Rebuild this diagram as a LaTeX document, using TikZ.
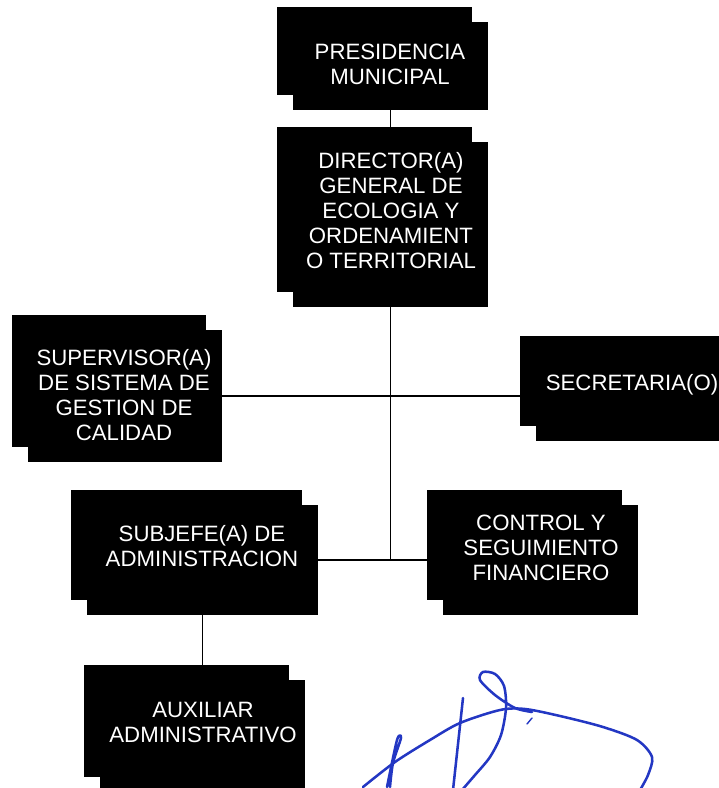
\documentclass[tikz,border=0pt]{standalone}
\usepackage{fontspec}
\setmainfont{Liberation Sans}
\usepackage{tikz}
\usetikzlibrary{shadows}
\definecolor{signblue}{RGB}{35,55,195}
\tikzstyle{box}  = [rectangle, fill=black, draw=none, inner sep=0pt, copy shadow={shadow xshift=-0.4cm, shadow yshift=0.375cm, fill=black, draw=none}]
\tikzstyle{txt}  = [text=white, align=center, inner sep=0pt, font=\fontsize{15.8}{17.8}\selectfont]
\tikzstyle{conn} = [line width=1.4pt]
\tikzstyle{ink}  = [line width=1.8pt, signblue, line cap=round, line join=round]

\begin{document}
\begin{tikzpicture}[]
		\useasboundingbox (0,0) rectangle (17.95,-19.7);

		% boxes
		\node[box, minimum width=4.875cm, minimum height=2.2cm]   (pres) at (9.7625,-1.65) {};
		\node[box, minimum width=4.875cm, minimum height=4.125cm] (dir)  at (9.7625,-5.6125) {};
		\node[box, minimum width=4.85cm,  minimum height=3.3cm]   (sup)  at (3.125,-9.9) {};
		\node[box, minimum width=5.675cm, minimum height=2.225cm] (sec)  at (16.2375,-9.9) {};
		\node[box, minimum width=5.775cm, minimum height=2.75cm]  (sub)  at (5.0625,-14) {};
		\node[box, minimum width=4.875cm, minimum height=2.75cm]  (ctl)  at (13.5125,-14) {};
		\node[box, minimum width=5.125cm, minimum height=2.8cm]   (aux)  at (5.0625,-18.4) {};

		% texts
		\node[txt] (presT) at (9.75,-1.6)    {PRESIDENCIA\\MUNICIPAL};
		\node[txt] (dirT)  at (9.775,-5.275) {DIRECTOR(A)\\GENERAL DE\\ECOLOGIA Y\\ORDENAMIENT\\O TERRITORIAL};
		\node[txt] (supT)  at (3.1,-9.875)   {SUPERVISOR(A)\\DE SISTEMA DE\\GESTION DE\\CALIDAD};
		\node[txt] (secT)  at (15.8,-9.625)  {SECRETARIA(O)};
		\node[txt] (subT)  at (5.05,-13.65)  {SUBJEFE(A) DE\\ADMINISTRACION};
		\node[txt] (ctlT)  at (13.525,-13.7) {CONTROL Y\\SEGUIMIENTO\\FINANCIERO};
		\node[txt] (auxT)  at (5.075,-18.05) {AUXILIAR\\ADMINISTRATIVO};

		% lines
		\draw[conn] (pres.south) -- (dir.north);
		\draw[conn] (dir.south) -- (dir.south |- sub.east);
		\draw[conn] (sup.east) -- (sec.west);
		\draw[conn] (sub.east) -- (ctl.west);
		\draw[conn] (sub.south) -- (aux.north);

		% signature
		\draw[ink] plot[smooth] coordinates {(9.075,-19.675) (9.875,-19.05) (10.75,-18.5) (11.5,-18.075) (12.5,-17.75) (13.125,-17.725) (14,-17.9) (15.075,-18.175) (15.925,-18.5) (16.3,-18.925) (16.2,-19.375) (16,-19.75)};
		\draw[ink] plot[smooth] coordinates {(13.3,-17.8) (12.875,-17.7) (12.375,-17.375) (12,-17) (12.075,-16.8) (12.375,-16.85) (12.6,-17.15) (12.65,-17.7) (12.525,-18.375) (12.25,-18.925) (11.875,-19.375) (11.55,-19.75)};
		\draw[ink] plot[smooth] coordinates {(11.575,-17.45) (11.45,-18.6) (11.325,-19.75)};
		\draw[ink] plot[smooth] coordinates {(9.675,-19.675) (9.925,-18.5) (10.025,-18.45) (9.825,-19.075) (9.75,-19.675)};
		\draw[ink, line width=1pt] (13.175,-18.1) -- (13.3,-17.95);
	\end{tikzpicture}
\end{document}
